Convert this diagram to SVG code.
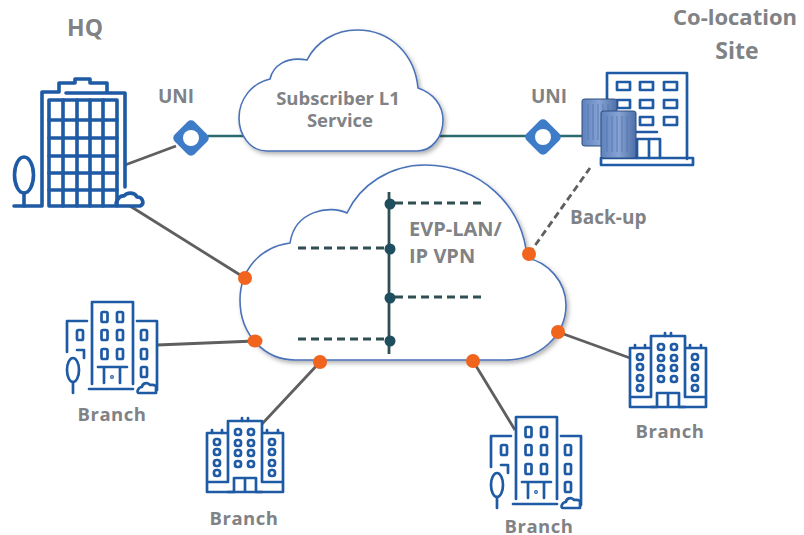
<svg xmlns="http://www.w3.org/2000/svg" width="804" height="535" viewBox="0 0 804 535">
<style>
.t{font-family:"Open Sans","Liberation Sans",sans-serif;font-weight:700;fill:#808285}
.m{text-anchor:middle}
.br{font-size:18.5px;letter-spacing:.5px}
.b{fill:none;stroke:#1f5aa5;stroke-width:2.7;stroke-linecap:round;stroke-linejoin:round}
.hq{stroke-width:3.6}
.g{fill:none;stroke:#5f5f5f;stroke-width:2.8}
.l{stroke:#2d6a6e;stroke-width:2.4;fill:none}
.d{stroke:#2f4f52;stroke-width:2.8;stroke-dasharray:8 5;fill:none}
.cl{fill:#fff;stroke:#4a72b8;stroke-width:1.6;filter:url(#sh)}
.o{fill:#f0641e}
.n{fill:#1f4e5f}
.dm{fill:#3f7cc8}
.ts{fill:url(#tank);stroke:#2f4f80;stroke-width:1}
</style>
<defs>
<filter id="sh" x="-5%" y="-5%" width="112%" height="115%"><feDropShadow dx="2" dy="2.5" stdDeviation="2" flood-color="#000" flood-opacity=".3"/></filter>
<linearGradient id="tank" x1="0" x2="1" y1="0" y2="0"><stop offset="0" stop-color="#5f82bd"/><stop offset=".5" stop-color="#86a3d3"/><stop offset="1" stop-color="#4d6fa8"/></linearGradient>
<g id="brA" class="b">
<path d="M92 384V302H133V384M87 321H67V352M137 321H157V390M89 389H133"/>
<rect x="101.500" y="312" width="6" height="10" rx="1.500"/><rect x="117" y="312" width="6" height="10" rx="1.500"/>
<rect x="101.500" y="330" width="6" height="10" rx="1.500"/><rect x="117" y="330" width="6" height="10" rx="1.500"/>
<rect x="101.500" y="349" width="6" height="10" rx="1.500"/><rect x="117" y="349" width="6" height="10" rx="1.500"/>
<rect x="77" y="330" width="6" height="10" rx="1.500"/>
<path d="M77 350H84V358"/>
<rect x="141" y="330" width="6" height="10" rx="1.500"/><rect x="141" y="349" width="6" height="10" rx="1.500"/><rect x="141" y="367" width="6" height="10" rx="1.500"/>
<path d="M98 367H127M104 367V383M120 367V383"/>
<circle cx="112" cy="377" r=".6"/>
<ellipse cx="73" cy="370" rx="6" ry="12"/><path d="M73 382V393"/>
<path d="M139 393H156V386C153 384 151 385 150 385C147 381 142 384 142 387C138 387 136 393 139 393Z"/>
</g>
<g id="brB" class="b">
<path d="M228 482V421H262V482M228 433H207V492H283V433H262M207 482H228M262 482H283M234 492V478H256V492M245 478V492"/>
<path d="M242 421V418M248 421V418M212 433V430M222 433V430M267 433V430M278 433V430M228 492H234M256 492H262"/>
<rect x="235" y="429" width="6" height="6" rx="2.500"/><rect x="248" y="429" width="6" height="6" rx="2.500"/>
<rect x="235" y="440" width="6" height="6" rx="2.500"/><rect x="248" y="440" width="6" height="6" rx="2.500"/>
<rect x="235" y="450" width="6" height="6" rx="2.500"/><rect x="248" y="450" width="6" height="6" rx="2.500"/>
<rect x="235" y="461" width="6" height="6" rx="2.500"/><rect x="248" y="461" width="6" height="6" rx="2.500"/>
<rect x="214" y="439" width="6" height="6" rx="2.500"/><rect x="214" y="449" width="6" height="6" rx="2.500"/><rect x="214" y="460" width="6" height="6" rx="2.500"/><rect x="214" y="470" width="6" height="6" rx="2.500"/>
<rect x="269" y="439" width="6" height="6" rx="2.500"/><rect x="269" y="449" width="6" height="6" rx="2.500"/><rect x="269" y="460" width="6" height="6" rx="2.500"/><rect x="269" y="470" width="6" height="6" rx="2.500"/>
</g>
</defs>
<rect width="804" height="535" fill="#fff"/>

<g id="connectors">
<path class="g" d="M125 165L176 146M130 206L245 278M157 345L255 341M262 424L320 362M515 430L473 361M630 358L558 332"/>
<path class="g" d="M529 254L590 168" stroke-dasharray="7 4"/>
<path class="l" d="M208 136H245M437 136H527M560 136H585"/>
</g>

<g id="subscriber-cloud">
<path class="cl" d="M267 151C250 151 239 135 239 118C239 99 252 83 270 79C273 66 286 56 307 60C316 42 335 30 357 30C392 30 415 56 418 88C433 93 443 105 443 120C443 137 432 151 417 151Z"/>
<text class="t m" x="338" y="105" font-size="18.500">Subscriber L1</text>
<text class="t m" x="340" y="127" font-size="18.500">Service</text>
</g>

<g id="network-cloud">
<path class="cl" d="M295 360H505C540 360 566 335 566 305C566 282 548 262 527 258C523 205 480 165 425 165C390 165 360 185 347 213C330 205 295 210 290 243C260 247 240 270 240 300C240 335 265 360 295 360Z"/>
<path d="M389 192V354" stroke="#2f4f52" stroke-width="2.800" fill="none"/>
<path class="d" d="M395 203H482M298 248H385M395 297H482M298 339H385"/>
<circle class="n" cx="390" cy="204" r="5.500"/><circle class="n" cx="390" cy="249" r="5.500"/><circle class="n" cx="390" cy="298" r="5.500"/><circle class="n" cx="390" cy="341" r="5.500"/>
<text class="t" x="409" y="236" font-size="20">EVP-LAN/</text>
<text class="t" x="409" y="263" font-size="20">IP VPN</text>
</g>

<g id="ports">
<circle class="o" cx="245" cy="278" r="7"/><ellipse class="o" cx="255" cy="341" rx="7.500" ry="6.500"/><circle class="o" cx="320" cy="362" r="7"/><circle class="o" cx="473" cy="361" r="7"/><circle class="o" cx="558" cy="332" r="7"/><circle class="o" cx="529" cy="254" r="7"/>
</g>

<g id="hq">
<g class="b hq">
<path d="M14 206H42V92H59V83H75V79H90V83H107V92M66 93H125V187"/>
<rect x="49" y="100" width="68" height="106"/>
<path d="M63 100V206M77 100V206M90 100V206M103 100V206M49 120H117M49 138H117M49 156H117M49 173H117M49 190H117"/>
<ellipse cx="24" cy="175" rx="9.500" ry="18"/><path d="M24 193V206"/>
<path d="M118 206H140C145 204 143 197 137 197C135 192 127 192 124 196C119 195 113 205 118 206Z"/>
</g>
<text class="t m" x="85" y="36" font-size="23">HQ</text>
</g>

<g id="uni-left">
<rect class="dm" x="177" y="124" width="28" height="28" rx="5" transform="rotate(45 191 138)"/><circle cx="191" cy="138" r="8" fill="#fff"/>
<text class="t m" x="176" y="103" font-size="19">UNI</text>
</g>
<g id="uni-right">
<rect class="dm" x="529" y="123" width="28" height="28" rx="5" transform="rotate(45 543 137)"/><circle cx="543" cy="137" r="8" fill="#fff"/>
<text class="t m" x="549" y="103" font-size="19">UNI</text>
</g>

<g id="colo">
<g class="b">
<path d="M607 100V73H687V159M610 132H657M637 158V139H660V158M649 139V158"/>
<rect x="601" y="158" width="92" height="7"/>
<rect x="617" y="82" width="13" height="8"/><rect x="640" y="82" width="13" height="8"/><rect x="664" y="82" width="13" height="8"/>
<rect x="617" y="100" width="13" height="8"/><rect x="640" y="100" width="13" height="8"/><rect x="664" y="100" width="13" height="8"/>
<rect x="617" y="117" width="13" height="8"/><rect x="640" y="117" width="13" height="8"/><rect x="664" y="117" width="13" height="8"/>
</g>
<path class="ts" d="M582 101Q582 99 585 99H614Q617 99 617 101V144Q617 146 614 146H585Q582 146 582 144Z"/>
<path d="M588 104V140M593 104V140M598 104V140M603 104V140M608 104V140" stroke="#4d6fa8" stroke-width=".7"/>
<path class="ts" d="M601 113Q601 111 604 111H633Q636 111 636 113V156Q636 158 633 158H604Q601 158 601 156Z"/>
<path d="M607 116V152M612 116V152M617 116V152M622 116V152M627 116V152" stroke="#4d6fa8" stroke-width=".7"/>
<text class="t m" x="735" y="25" font-size="22">Co-location</text>
<text class="t m" x="737" y="59" font-size="23">Site</text>
</g>

<text class="t" x="570" y="224" font-size="19" id="backup-label">Back-up</text>

<g id="branch-1"><use href="#brA"/><text class="t m br" x="112" y="421">Branch</text></g>
<g id="branch-2"><use href="#brB"/><text class="t m br" x="244" y="525">Branch</text></g>
<g id="branch-3"><use href="#brA" x="424" y="115"/><text class="t m br" x="539" y="533">Branch</text></g>
<g id="branch-4"><use href="#brB" x="423" y="-85"/><text class="t m br" x="670" y="438">Branch</text></g>
</svg>
